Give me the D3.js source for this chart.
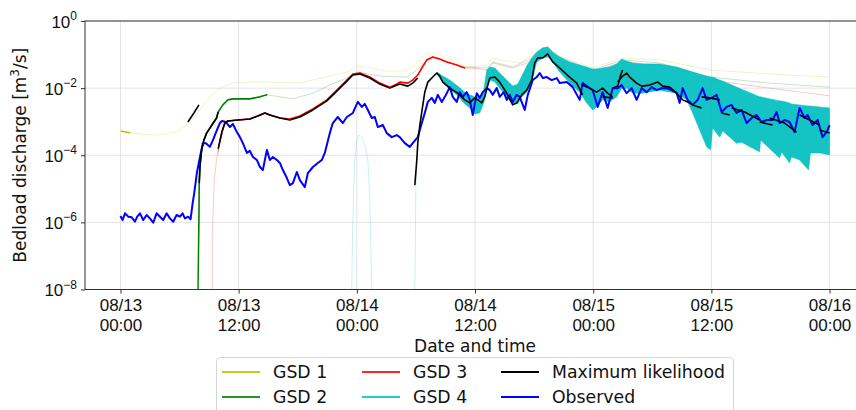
<!DOCTYPE html>
<html>
<head>
<meta charset="utf-8">
<script src="https://cdn.jsdelivr.net/npm/d3@7"></script>
<style>
  html, body { margin: 0; padding: 0; background: #fff; }
  svg { display: block; font-family: "DejaVu Sans", sans-serif; }
</style>
</head>
<body>
<svg id="chart" width="856" height="410"></svg>
<script>
// All series: [hours after 08/13 00:00, log10 of bedload discharge in m3/s]

const observed = [
  [0.0,-5.81],[0.22,-5.93],[0.46,-5.73],[0.79,-5.83],[1.14,-5.85],[1.47,-5.98],[1.70,-5.83],[1.98,-5.73],
  [2.31,-5.93],[2.66,-5.78],[2.99,-5.88],[3.33,-6.01],[3.67,-5.73],[4.01,-5.83],[4.34,-5.93],[4.69,-5.73],
  [5.02,-5.88],[5.36,-5.98],[5.70,-5.78],[6.04,-5.83],[6.31,-5.73],[6.55,-5.88],[6.88,-5.83],[7.12,-5.91],
  [7.33,-5.43],[7.49,-5.13],[7.76,-4.53],[8.07,-4.05],[8.37,-3.64],[8.68,-3.64],[9.08,-3.75],[9.39,-3.55],
  [9.79,-3.25],[10.10,-3.04],[10.30,-2.98],[10.71,-3.01],[11.12,-3.16],[11.42,-3.07],[11.82,-3.31],[12.13,-3.46],
  [12.43,-3.64],[12.84,-3.93],[13.14,-3.87],[13.45,-4.05],[13.85,-4.14],[14.16,-4.35],[14.46,-4.44],[14.87,-3.84],
  [15.17,-4.14],[15.48,-4.05],[15.88,-4.14],[16.19,-4.23],[16.49,-4.44],[16.90,-4.68],[17.20,-4.89],[17.51,-4.83],
  [17.91,-4.50],[18.22,-4.74],[18.72,-4.95],[19.03,-4.53],[19.54,-4.35],[20.04,-4.23],[20.45,-4.14],[20.75,-3.93],
  [21.26,-3.34],[21.56,-3.04],[22.07,-2.86],[22.58,-3.04],[22.99,-2.86],[23.60,-2.74],[24.10,-2.41],[24.51,-2.56],
  [24.81,-2.47],[25.12,-2.65],[25.52,-2.89],[25.83,-2.86],[26.13,-3.16],[26.64,-3.10],[27.04,-3.34],[27.55,-3.46],
  [28.06,-3.40],[28.36,-3.46],[28.87,-3.64],[29.38,-3.75],[29.68,-3.64],[30.19,-3.46],[30.60,-3.04],[30.90,-2.74],
  [31.21,-2.41],[31.61,-2.29],[31.92,-2.44],[32.22,-2.20],[32.63,-2.41],[33.14,-2.15],[33.44,-1.97],[33.74,-2.26],
  [34.15,-2.41],[34.45,-2.12],[34.76,-2.26],[35.16,-2.12],[35.47,-2.35],[35.77,-2.80],[36.18,-2.15],[36.48,-2.29],
  [36.79,-2.12],[37.19,-2.00],[37.50,-2.06],[37.80,-2.20],[38.21,-2.00],[38.51,-2.26],[38.92,-2.12],[39.22,-2.35],
  [39.53,-2.20],[39.83,-2.41],[40.24,-2.20],[40.54,-2.26],[41.05,-2.65],[41.36,-2.20],[41.86,-1.76],[42.27,-1.67],
  [42.57,-1.55],[42.88,-1.70],[43.28,-1.67],[43.79,-1.76],[44.30,-1.70],[44.60,-1.85],[45.31,-1.82],[45.92,-1.97],
  [46.63,-2.35],[46.93,-1.85],[47.64,-2.00],[47.95,-2.06],[48.46,-2.56],[48.96,-2.12],[49.47,-2.59],[49.98,-2.00],
  [50.49,-2.00],[50.89,-1.91],[51.40,-2.15],[51.91,-2.00],[52.41,-2.35],[52.92,-2.00],[53.43,-2.12],[53.94,-1.97],
  [54.45,-2.06],[54.95,-2.00],[55.46,-2.00],[55.97,-2.06],[56.48,-2.15],[56.78,-2.44],[57.09,-2.00],[57.59,-2.35],
  [58.10,-2.50],[58.61,-2.35],[59.11,-2.00],[59.52,-2.35],[60.03,-2.29],[60.53,-2.20],[61.04,-2.71],[61.55,-2.56],
  [62.06,-2.50],[62.56,-2.74],[63.07,-2.65],[63.58,-3.04],[64.09,-2.89],[64.59,-2.80],[65.10,-3.01],[65.61,-2.95],
  [66.22,-2.95],[66.63,-2.71],[66.93,-3.04],[67.44,-2.95],[67.94,-3.01],[68.45,-3.31],[68.96,-2.59],[69.47,-2.89],
  [69.77,-2.80],[70.28,-3.10],[70.79,-2.95],[71.29,-3.46],[71.70,-3.31],[72.0,-3.10]
];

const gsd1 = [
  [0.0,-3.28],[0.97,-3.33],[2.49,-3.38],[4.01,-3.40],[5.73,-3.30],[6.75,-3.10],[8.07,-2.65],[9.08,-2.26],
  [10.10,-2.00],[11.42,-1.85],[13.14,-1.82],[14.87,-1.82],[18.22,-1.85],[19.54,-1.76],[22.99,-1.52],[24.10,-1.34],
  [25.32,-1.40],[27.04,-1.49],[29.07,-1.49],[30.09,-1.25],[31.11,-1.01],[31.92,-0.95],[33.14,-1.10],[35.16,-1.37],
  [37.19,-1.31],[37.80,-1.10],[38.51,-1.16],[40.54,-1.25],[41.86,-1.01],[43.28,-0.80],[44.30,-1.01],[46.63,-1.25],
  [47.95,-1.40],[50.99,-1.10],[54.75,-1.16],[59.83,-1.46],[65.91,-1.58],[72.0,-1.67]
];

const gsd2 = [
  [7.82,-9.0],[7.89,-7.5],[7.97,-5.8],[8.00,-4.83],[8.07,-4.35],[8.24,-3.84],[8.47,-3.55],[8.75,-3.34],
  [9.08,-3.19],[9.42,-3.04],[9.76,-2.89],[9.92,-2.71],[10.40,-2.50],[10.91,-2.35],[11.42,-2.32],[13.14,-2.32],
  [14.16,-2.26],[14.87,-2.20],[16.19,-2.26],[17.51,-2.32],[19.54,-2.15],[21.26,-1.91],[22.99,-1.70],[24.10,-1.52],
  [26.33,-1.64],[29.07,-1.67],[30.09,-1.46],[31.11,-1.16],[32.12,-1.10],[34.76,-1.37],[37.19,-1.40],[37.80,-1.22],
  [39.83,-1.37],[41.86,-1.10],[43.28,-0.92],[46.63,-1.31],[47.95,-1.46],[50.99,-1.16],[54.75,-1.25],[59.83,-1.67],
  [65.91,-1.85],[72.0,-1.97]
];

const gsd3 = [
  [9.29,-9.0],[9.32,-8.02],[9.33,-6.32],[9.52,-4.74],[9.76,-4.14],[9.92,-3.81],[10.30,-3.31],[10.60,-3.04],
  [10.91,-2.98],[11.92,-2.95],[13.14,-2.92],[13.95,-2.83],[14.66,-2.74],[15.17,-2.80],[16.19,-2.89],[17.20,-2.92],
  [18.22,-2.83],[19.54,-2.62],[20.96,-2.35],[21.97,-2.06],[22.99,-1.76],[23.60,-1.58],[24.31,-1.55],[25.32,-1.67],
  [26.33,-1.85],[27.35,-1.97],[27.86,-1.91],[28.36,-1.82],[29.18,-1.85],[29.68,-1.76],[30.19,-1.61],[30.60,-1.40],
  [31.11,-1.16],[31.71,-1.07],[32.42,-1.13],[33.14,-1.22],[34.15,-1.31],[34.96,-1.40],[35.77,-1.40],[37.19,-1.46],
  [37.80,-1.25],[39.83,-1.40],[41.56,-1.22],[43.28,-0.95],[45.11,-1.22],[46.63,-1.37],[47.95,-1.52],[50.99,-1.22],
  [54.75,-1.31],[59.83,-1.76],[65.91,-2.00],[72.0,-2.23]
];

// single GSD 4 member before the ensemble spreads out (null = break)
const gsd4Trace = [
  [23.44,-9.0],[23.49,-7.99],[23.54,-6.82],[23.65,-5.33],[23.80,-4.14],[24.00,-3.55],[24.20,-3.40],[24.51,-3.46],
  [24.81,-3.70],[25.12,-4.14],[25.32,-5.33],[25.42,-6.82],[25.52,-7.99],[25.57,-9.0],
  null,
  [29.87,-9.0],[29.89,-7.99],[29.94,-6.82],[29.99,-4.95],[30.19,-3.64],[30.40,-3.10],[30.60,-2.71],[30.90,-2.12],
  [31.21,-1.82],[31.71,-1.67],[32.12,-1.55]
];

// GSD 4 ensemble envelope: [hours, upper log10, lower log10]
const gsd4Band = [
  [32.12,-1.52,-1.58],[32.73,-1.64,-1.82],[33.44,-1.76,-2.03],[34.25,-1.94,-2.23],[34.96,-2.12,-2.47],
  [35.47,-2.20,-2.59],[35.97,-2.26,-2.77],[36.48,-2.26,-2.74],[36.89,-2.06,-2.44],[37.19,-1.46,-2.06],
  [37.50,-1.37,-1.76],[38.01,-1.40,-1.82],[38.51,-1.55,-2.00],[39.22,-1.76,-2.26],[39.83,-1.94,-2.47],
  [40.34,-1.88,-2.47],[40.75,-1.64,-2.26],[41.25,-1.34,-2.12],[41.76,-1.10,-1.82],[42.27,-0.92,-1.22],
  [42.88,-0.80,-1.10],[43.38,-0.77,-1.07],[43.89,-0.92,-1.22],[44.60,-1.07,-1.52],[45.61,-1.22,-1.85],
  [46.63,-1.31,-2.12],[47.34,-1.37,-2.44],[47.95,-1.43,-2.65],[48.35,-1.43,-2.56],[48.96,-1.40,-2.35],
  [49.67,-1.37,-2.41],[50.39,-1.28,-2.26],[50.89,-1.13,-2.00],[51.40,-1.19,-2.00],[52.01,-1.25,-2.15],
  [53.02,-1.28,-2.15],[54.75,-1.28,-2.06],[56.48,-1.37,-2.15],[57.49,-1.46,-2.35],[58.10,-1.52,-2.74],
  [58.81,-1.58,-3.25],[59.52,-1.64,-3.75],[59.93,-1.67,-3.84],[60.13,-1.67,-3.19],[60.85,-1.76,-3.46],
  [61.15,-1.79,-3.28],[62.56,-1.97,-3.64],[63.07,-2.03,-3.61],[64.90,-2.26,-3.90],[65.00,-2.26,-3.55],
  [66.93,-2.38,-4.08],[67.13,-2.38,-3.90],[67.94,-2.44,-4.23],[68.14,-2.47,-4.05],[68.96,-2.50,-4.14],
  [69.87,-2.53,-4.44],[70.07,-2.53,-3.93],[70.98,-2.56,-3.93],[72.0,-2.59,-3.99]
];

// maximum-likelihood estimate, one piece per selected run
const maxLikelihood = [
  [[6.85,-3.01],[7.46,-2.74],[7.97,-2.50]],
  [[8.00,-4.83],[8.07,-4.35],[8.24,-3.84],[8.47,-3.55],[8.75,-3.34],[9.08,-3.19],[9.42,-3.04],[9.76,-2.89],[9.92,-2.71]],
  [[9.92,-3.81],[10.30,-3.31],[10.60,-3.04],[10.91,-2.98],[11.92,-2.95],[13.14,-2.92],[13.95,-2.83],[14.66,-2.74],
   [15.17,-2.80],[16.19,-2.89],[17.20,-2.95],[18.22,-2.86],[19.54,-2.65],[20.96,-2.38],[21.97,-2.09],[22.99,-1.79],
   [23.60,-1.61],[24.31,-1.58],[25.32,-1.70],[26.33,-1.88],[27.35,-2.00],[27.86,-1.94],[28.36,-1.88],[29.18,-1.94],
   [29.68,-1.85],[30.19,-1.70]],
  [[29.89,-4.89],[30.09,-4.14],[30.19,-3.64],[30.40,-3.10],[30.60,-2.71],[30.90,-2.12],[31.21,-1.82],[31.71,-1.67],
   [32.12,-1.55],[32.42,-1.64],[32.73,-1.82],[33.44,-2.00],[34.25,-2.15],[34.96,-2.35],[35.47,-2.44],[35.97,-2.29],
   [36.28,-2.35],[36.69,-2.44],[36.99,-2.26],[37.30,-1.91],[37.50,-1.70],[38.01,-1.67],[38.51,-1.82],[39.22,-2.15],
   [39.83,-2.50],[40.24,-2.44],[40.75,-2.20],[41.25,-2.06],[41.76,-1.76],[42.07,-1.25],[42.37,-1.10],[42.88,-1.10],
   [43.38,-0.98],[43.89,-1.22],[44.60,-1.40],[45.61,-1.67],[46.33,-1.85],[46.93,-2.20]],
  [[46.83,-1.91],[47.64,-2.00],[48.35,-2.12],[48.96,-2.00],[49.47,-2.15],[49.98,-2.26]],
  [[48.96,-2.26],[49.98,-2.29]],
  [[49.98,-2.00],[50.49,-1.94],[50.79,-1.61],[50.99,-1.46]],
  [[50.49,-1.82],[50.99,-1.64],[51.40,-1.55],[51.71,-1.67],[52.41,-1.85],[52.92,-1.94],[53.73,-1.91],[54.55,-1.82],
   [55.06,-1.94],[55.77,-1.97],[56.48,-2.15],[57.09,-2.35],[57.59,-2.41],[58.10,-2.50],[59.01,-2.59]],
  [[59.01,-2.26],[59.83,-2.29],[60.85,-2.35]],
  [[61.04,-2.74],[61.85,-2.80]],
  [[62.06,-2.59],[63.38,-2.71],[64.90,-2.95]],
  [[64.90,-3.01],[66.22,-3.10]],
  [[65.91,-2.89],[67.44,-3.04],[68.65,-3.31]],
  [[68.96,-2.80],[69.97,-2.95],[70.98,-3.10]],
  [[70.98,-3.25],[72.0,-3.34]]
];

// periods (hours) in which each grain-size distribution is the likely one
const gsd1Active = [[0.0, 1.0]];
const gsd2Active = [[7.8, 14.9]];
const gsd3Active = [[9.95, 35.0]];

const xTickHours = [0, 12, 24, 36, 48, 60, 72];
const yTickExponents = [-8, -6, -4, -2, 0];

const legendItems = [
  { label: "GSD 1", color: "#bfbf00" },
  { label: "GSD 2", color: "#008000" },
  { label: "GSD 3", color: "#ff0000" },
  { label: "GSD 4", color: "#00bfbf" },
  { label: "Maximum likelihood", color: "#000000" },
  { label: "Observed", color: "#0000ff" }
];

// ---------------------------------------------------------------------------
const svg = d3.select("#chart");
const plot = { left: 85, right: 865, top: 21, bottom: 289.5 };
const FS = 17;

const t0 = new Date(2021, 7, 13, 0, 0, 0);
const at = h => new Date(t0.getTime() + h * 3600e3);

const x = d3.scaleTime().domain([at(-3.6), at(75.6)]).range([plot.left, plot.right]);
const y = d3.scaleLog().domain([1e-8, 1]).range([plot.bottom, plot.top]);

const pt = d => d ? { t: at(d[0]), q: Math.pow(10, d[1]) } : null;
const line = d3.line().defined(d => d !== null).x(d => x(d.t)).y(d => y(d.q));

const defs = svg.append("defs");
defs.append("clipPath").attr("id", "plot-clip")
  .append("rect")
  .attr("x", plot.left).attr("y", plot.top)
  .attr("width", plot.right - plot.left).attr("height", plot.bottom - plot.top);

// grid
const grid = svg.append("g");
grid.selectAll("line.gx").data(xTickHours).join("line")
  .attr("x1", h => x(at(h))).attr("x2", h => x(at(h)))
  .attr("y1", plot.top).attr("y2", plot.bottom)
  .attr("stroke", "#e3e3e3").attr("stroke-width", 1);
grid.selectAll("line.gy").data(yTickExponents).join("line")
  .attr("x1", plot.left).attr("x2", plot.right)
  .attr("y1", e => y(Math.pow(10, e))).attr("y2", e => y(Math.pow(10, e)))
  .attr("stroke", "#e3e3e3").attr("stroke-width", 1);

const g = svg.append("g").attr("clip-path", "url(#plot-clip)");

// faint full traces
function faint(data, color, w) {
  g.append("path").datum(data.map(pt))
    .attr("d", line).attr("fill", "none")
    .attr("stroke", color).attr("stroke-width", w).attr("stroke-opacity", 0.22)
    .attr("stroke-linejoin", "round");
}
faint(gsd1, "#bfbf00", 1);
faint(gsd2, "#008000", 1);
faint(gsd3, "#ff0000", 1);
faint(gsd4Trace, "#00bfbf", 1);

// GSD 4 ensemble
const area = d3.area()
  .x(d => x(at(d[0])))
  .y0(d => y(Math.pow(10, d[2])))
  .y1(d => y(Math.pow(10, d[1])));
g.append("path").datum(gsd4Band)
  .attr("d", area).attr("fill", "#00bfbf").attr("fill-opacity", 0.92)
  .attr("stroke", "#00bfbf").attr("stroke-width", 0.8).attr("stroke-opacity", 0.6);

// likely periods drawn solid
let clipId = 0;
function active(data, ranges, color) {
  ranges.forEach(r => {
    const id = "act-" + (clipId++);
    defs.append("clipPath").attr("id", id).append("rect")
      .attr("x", x(at(r[0]))).attr("y", 0)
      .attr("width", x(at(r[1])) - x(at(r[0]))).attr("height", plot.bottom);
    g.append("g").attr("clip-path", `url(#${id})`)
      .append("path").datum(data.map(pt))
      .attr("d", line).attr("fill", "none")
      .attr("stroke", color).attr("stroke-width", 1.6)
      .attr("stroke-linejoin", "round");
  });
}
active(gsd1, gsd1Active, "#bfbf00");
active(gsd2, gsd2Active, "#008000");
active(gsd3, gsd3Active, "#ff0000");

// observed
g.append("path").datum(observed.map(pt))
  .attr("d", line).attr("fill", "none")
  .attr("stroke", "#0000ff").attr("stroke-width", 2)
  .attr("stroke-linejoin", "round");

// maximum likelihood
g.selectAll("path.ml").data(maxLikelihood).join("path")
  .attr("class", "ml")
  .attr("d", seg => line(seg.map(pt))).attr("fill", "none")
  .attr("stroke", "#000").attr("stroke-width", 1.6)
  .attr("stroke-linejoin", "round");

// frame
svg.append("rect")
  .attr("x", plot.left).attr("y", plot.top)
  .attr("width", plot.right - plot.left).attr("height", plot.bottom - plot.top)
  .attr("fill", "none").attr("stroke", "#333").attr("stroke-width", 1);

// x axis
const xAxis = svg.append("g").attr("transform", `translate(0,${plot.bottom})`)
  .call(d3.axisBottom(x).tickValues(xTickHours.map(at)).tickSize(4).tickSizeOuter(0).tickFormat(""));
xAxis.select(".domain").remove();
xAxis.selectAll(".tick line").attr("stroke", "#333");
const fmtDay = d3.timeFormat("%m/%d"), fmtTime = d3.timeFormat("%H:%M");
xAxis.selectAll(".tick").each(function (d) {
  const t = d3.select(this).append("text")
    .attr("fill", "#111").attr("font-size", FS).attr("text-anchor", "middle");
  t.append("tspan").attr("x", 0).attr("y", 21).text(fmtDay(d));
  t.append("tspan").attr("x", 0).attr("y", 41).text(fmtTime(d));
});

// y axis
const yAxis = svg.append("g").attr("transform", `translate(${plot.left},0)`)
  .call(d3.axisLeft(y).tickValues(yTickExponents.map(e => Math.pow(10, e))).tickSize(4).tickSizeOuter(0).tickFormat(""));
yAxis.select(".domain").remove();
yAxis.selectAll(".tick line").attr("stroke", "#333");
yAxis.selectAll(".tick").each(function (d) {
  const e = Math.round(Math.log10(d));
  const t = d3.select(this).append("text")
    .attr("fill", "#111").attr("font-size", FS).attr("text-anchor", "end")
    .attr("x", -8).attr("y", 6);
  t.append("tspan").text("10");
  t.append("tspan").attr("font-size", 12).attr("dy", -7.5)
    .text(e < 0 ? "\u2212" + Math.abs(e) : String(e));
});

// axis titles
svg.append("text")
  .attr("x", (plot.left + plot.right) / 2).attr("y", 352)
  .attr("text-anchor", "middle").attr("font-size", FS).attr("fill", "#111")
  .text("Date and time");
const yl = svg.append("text")
  .attr("transform", `translate(26,${(plot.top + plot.bottom) / 2}) rotate(-90)`)
  .attr("text-anchor", "middle").attr("font-size", FS).attr("fill", "#111");
yl.append("tspan").text("Bedload discharge [m");
yl.append("tspan").attr("font-size", 12).attr("dy", -7).text("3");
yl.append("tspan").attr("dy", 7).text("/s]");

// legend
const lg = svg.append("g");
lg.append("rect")
  .attr("x", 216.5).attr("y", 357.5).attr("width", 517).attr("height", 70).attr("rx", 4)
  .attr("fill", "#fff").attr("fill-opacity", 0.8)
  .attr("stroke", "#d5d5d5").attr("stroke-width", 1);
const colX = [222, 362, 501];
const rowY = [372, 397];
legendItems.forEach((it, i) => {
  const cx = colX[Math.floor(i / 2)], cy = rowY[i % 2];
  lg.append("line")
    .attr("x1", cx).attr("x2", cx + 38).attr("y1", cy).attr("y2", cy)
    .attr("stroke", it.color).attr("stroke-width", 2)
    .attr("stroke-opacity", i < 4 ? 0.85 : 1);
  lg.append("text")
    .attr("x", cx + 51).attr("y", cy + 6)
    .attr("font-size", 17.3).attr("fill", "#111")
    .text(it.label);
});
</script>
</body>
</html>
